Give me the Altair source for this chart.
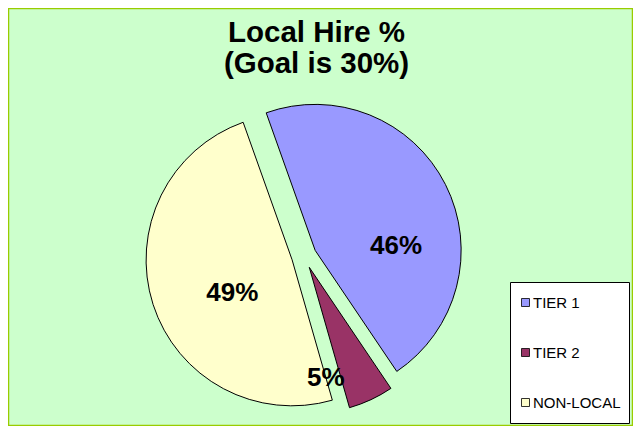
import altair as alt
import pandas as pd

# ---- data ----
categories = ["TIER 1", "TIER 2", "NON-LOCAL"]
values = [46, 5, 49]
colors = ["#9999FF", "#993366", "#FFFFCC"]

df = pd.DataFrame({
    "category": categories,
    "value": values,
    "order": list(range(len(categories))),
})

# ---- layout / style ----
W, H = 625, 418
CX, CY = 296, 248      # pie centre (view pixels)
R = 146                # pie radius
EXPLODE = 12.5         # explosion distance of each slice
START = -0.342         # rotation of first slice (radians, clockwise from 12 o'clock)
FONT = "Liberation Sans"

base = (
    alt.Chart(df)
    .transform_joinaggregate(total="sum(value)")
    .transform_window(cum="sum(value)", sort=[alt.SortField("order")], frame=[None, 0])
    .transform_calculate(
        t0=f"{START} + 2*PI*(datum.cum - datum.value)/datum.total",
        t1=f"{START} + 2*PI*datum.cum/datum.total",
    )
    .transform_calculate(mid="(datum.t0 + datum.t1)/2")
    .transform_calculate(
        cx=f"{CX} + {EXPLODE}*sin(datum.mid)",
        cy=f"{CY} - {EXPLODE}*cos(datum.mid)",
        label="format(datum.value/datum.total, '.0%')",
    )
)

pie = base.mark_arc(outerRadius=R, stroke="black", strokeWidth=1).encode(
    theta=alt.Theta("t0:Q", scale=None),
    theta2="t1:Q",
    x=alt.X("cx:Q", scale=None, axis=None),
    y=alt.Y("cy:Q", scale=None, axis=None),
    color=alt.Color(
        "category:N",
        scale=alt.Scale(domain=categories, range=colors),
        legend=alt.Legend(
            title=None,
            orient="none",
            legendX=502,
            legendY=274,
            symbolType="square",
            symbolSize=64,
            symbolStrokeColor="black",
            symbolStrokeWidth=0.8,
            labelFont=FONT,
            labelFontSize=15,
            labelColor="black",
            labelOffset=0,
            clipHeight=25,
            rowPadding=25,
            padding=8,
            strokeColor="black",
            fillColor="white",
        ),
    ),
    order=alt.Order("order:Q"),
)

# label placement per slice: (distance from slice tip, angle offset from bisector in radians)
label_place = {"TIER 1": (81, 0.408), "TIER 2": (112, 0.288), "NON-LOCAL": (68.5, -0.199)}

texts = []
for cat in categories:
    rad, off = label_place[cat]
    texts.append(
        base.transform_filter(alt.datum.category == cat)
        .mark_text(
            radius=rad,
            thetaOffset=off,
            font=FONT,
            fontSize=26,
            fontWeight="bold",
            color="black",
            align="center",
            baseline="middle",
        )
        .encode(
            text="label:N",
            theta=alt.Theta("mid:Q", scale=None),
            x=alt.X("cx:Q", scale=None, axis=None),
            y=alt.Y("cy:Q", scale=None, axis=None),
        )
    )

chart = (
    alt.layer(pie, *texts)
    .properties(
        width=W,
        height=H,
        padding=0,
        autosize=alt.AutoSizeParams(type="none"),
        background="#CCFFCC",
        title=alt.TitleParams(
            ["Local Hire %", "(Goal is 30%)"],
            font=FONT,
            fontSize=29.5,
            fontWeight="bold",
            color="black",
            lineHeight=31,
            anchor="middle",
            offset=-71,
            dx=-4,
        ),
    )
    .configure_view(fill="#CCFFCC", stroke="#99CC00", strokeWidth=2.5)
    .configure_legend(strokeWidth=1)
)

chart.save("out.html", embed_options={"renderer": "svg", "actions": False})
